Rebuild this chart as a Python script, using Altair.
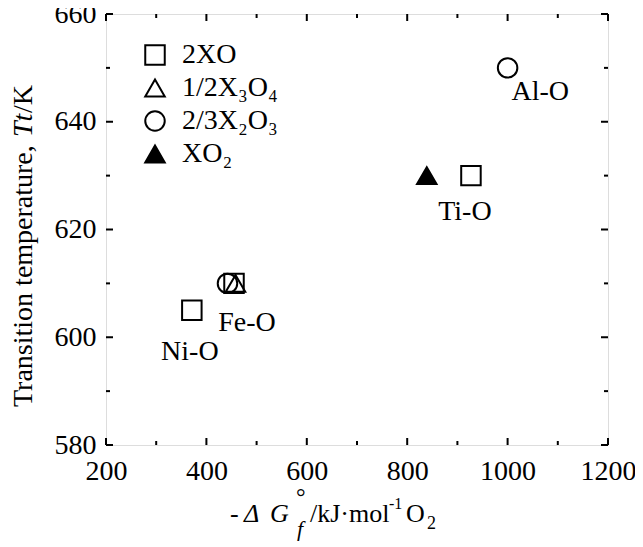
import altair as alt
import pandas as pd

# ---- data ----
systems = ["Ni-O", "Fe-O", "Fe-O", "Fe-O", "Ti-O", "Ti-O", "Al-O"]
oxide_types = ["2XO", "2XO", "1/2X₃O₄", "2/3X₂O₃", "2XO", "XO₂", "2/3X₂O₃"]
neg_dG = [371, 455, 458, 442, 927, 839, 1000]
Tt = [605, 610, 610, 610, 630, 630, 650]

label_text = ["Ni-O", "Fe-O", "Ti-O", "Al-O"]
label_x = [367, 481, 915, 1065]
label_y = [597.3, 602.7, 623.3, 645.5]

type_order = ["2XO", "1/2X₃O₄", "2/3X₂O₃", "XO₂"]
type_shapes = ["square", "triangle-up", "circle", "triangle-up"]
type_fills = ["transparent", "transparent", "transparent", "black"]
type_strokes = ["black", "black", "black", "black"]

x_major = [200, 400, 600, 800, 1000, 1200]
x_minor = [300, 500, 700, 900, 1100]
y_major = [580, 600, 620, 640, 660]
y_minor = [590, 610, 630, 650]

W, H = 502, 431
FONT = "Liberation Serif"
FS = 28

df = pd.DataFrame({"system": systems, "type": oxide_types, "x": neg_dG, "y": Tt})
lab = pd.DataFrame({"t": label_text, "x": label_x, "y": label_y})

xs = alt.Scale(domain=[200, 1200], nice=False, zero=False)
ys = alt.Scale(domain=[580, 660], nice=False, zero=False)

x_axis = alt.Axis(values=x_major, ticks=False, domain=False, grid=False,
                  labelFont=FONT, labelFontSize=FS, labelColor="black",
                  labelPadding=12, title=None, format="d", labelFlush=False)
y_axis = alt.Axis(values=y_major, ticks=False, domain=False, grid=False,
                  labelFont=FONT, labelFontSize=FS, labelColor="black",
                  labelPadding=10, title=None, format="d", labelFlush=False)

leg = alt.Legend(title=None, orient="none", legendX=35, legendY=27,
                 labelFont=FONT, labelFontSize=FS, labelColor="black",
                 symbolSize=380, symbolStrokeWidth=2, padding=0,
                 rowPadding=5, labelOffset=13, labelLimit=0)

points = alt.Chart(df).mark_point(size=380, strokeWidth=2, opacity=1).encode(
    x=alt.X("x:Q", scale=xs, axis=x_axis),
    y=alt.Y("y:Q", scale=ys, axis=y_axis),
    shape=alt.Shape("type:N", scale=alt.Scale(domain=type_order, range=type_shapes), legend=leg),
    fill=alt.Fill("type:N", scale=alt.Scale(domain=type_order, range=type_fills), legend=leg),
    stroke=alt.Stroke("type:N", scale=alt.Scale(domain=type_order, range=type_strokes), legend=leg),
)

labels = alt.Chart(lab).mark_text(font=FONT, fontSize=FS, color="black",
                                  align="center", baseline="middle").encode(
    x=alt.X("x:Q", scale=xs, axis=x_axis),
    y=alt.Y("y:Q", scale=ys, axis=y_axis),
    text="t:N",
)

def xticks(vals, length, top):
    d = pd.DataFrame({"v": vals})
    if top:
        y1, y2 = 0, length
    else:
        y1, y2 = H, H - length
    return alt.Chart(d).mark_rule(color="black", strokeWidth=2).encode(
        x=alt.X("v:Q", scale=xs, axis=x_axis), y=alt.value(y1), y2=alt.value(y2))

def yticks(vals, length, right):
    d = pd.DataFrame({"v": vals})
    if right:
        x1, x2 = W, W - length
    else:
        x1, x2 = 0, length
    return alt.Chart(d).mark_rule(color="black", strokeWidth=2).encode(
        y=alt.Y("v:Q", scale=ys, axis=y_axis), x=alt.value(x1), x2=alt.value(x2))

ticks = [
    xticks(x_major, 7, False), xticks(x_minor, 4, False),
    xticks(x_major, 7, True), xticks(x_minor, 4, True),
    yticks(y_major, 7, False), yticks(y_minor, 4, False),
    yticks(y_major, 7, True), yticks(y_minor, 4, True),
]

def piece(txt, px, py, size=FS, style="normal", angle=0, align="left"):
    d = pd.DataFrame({"t": [txt]})
    return alt.Chart(d).mark_text(font=FONT, fontSize=size, fontStyle=style, color="black",
                                  align=align, baseline="alphabetic", angle=angle).encode(
        text="t:N", x=alt.value(px), y=alt.value(py))

# x-axis title: -ΔG°f/kJ·mol-1 O2  (positions relative to the plot's left edge)
xt_base = 508
TFS = 26
x_title = [
    piece("-", 124, xt_base, size=TFS),
    piece("Δ", 138, xt_base, size=TFS, style="italic"),
    piece("G", 164, xt_base, size=TFS, style="italic"),
    piece("°", 190, xt_base - 17, size=24),
    piece("f", 191, xt_base + 14, size=22, style="italic"),
    piece("/kJ·mol", 204, xt_base, size=TFS),
    piece("-1", 283, xt_base - 13, size=16),
    piece("O", 300, xt_base, size=TFS),
    piece("2", 321, xt_base + 7, size=18),
]

# y-axis title: Transition temperature, Tt/K (rotated)
yt_x = -74
y_title = [
    piece("Transition temperature, ", yt_x, 393, angle=270),
    piece("Tt", yt_x, 393 - 270, style="italic", angle=270),
    piece("/K", yt_x, 393 - 294, angle=270),
]

chart = alt.layer(points, labels, *ticks, *x_title, *y_title).properties(
    width=W, height=H,
    autosize=alt.AutoSizeParams(type="none"),
    padding={"left": 98, "top": 6, "right": 27, "bottom": 102},
).configure_view(stroke="black", strokeWidth=2).configure(background="white")

chart.save("out.html", embed_options={"renderer": "svg", "actions": False})
